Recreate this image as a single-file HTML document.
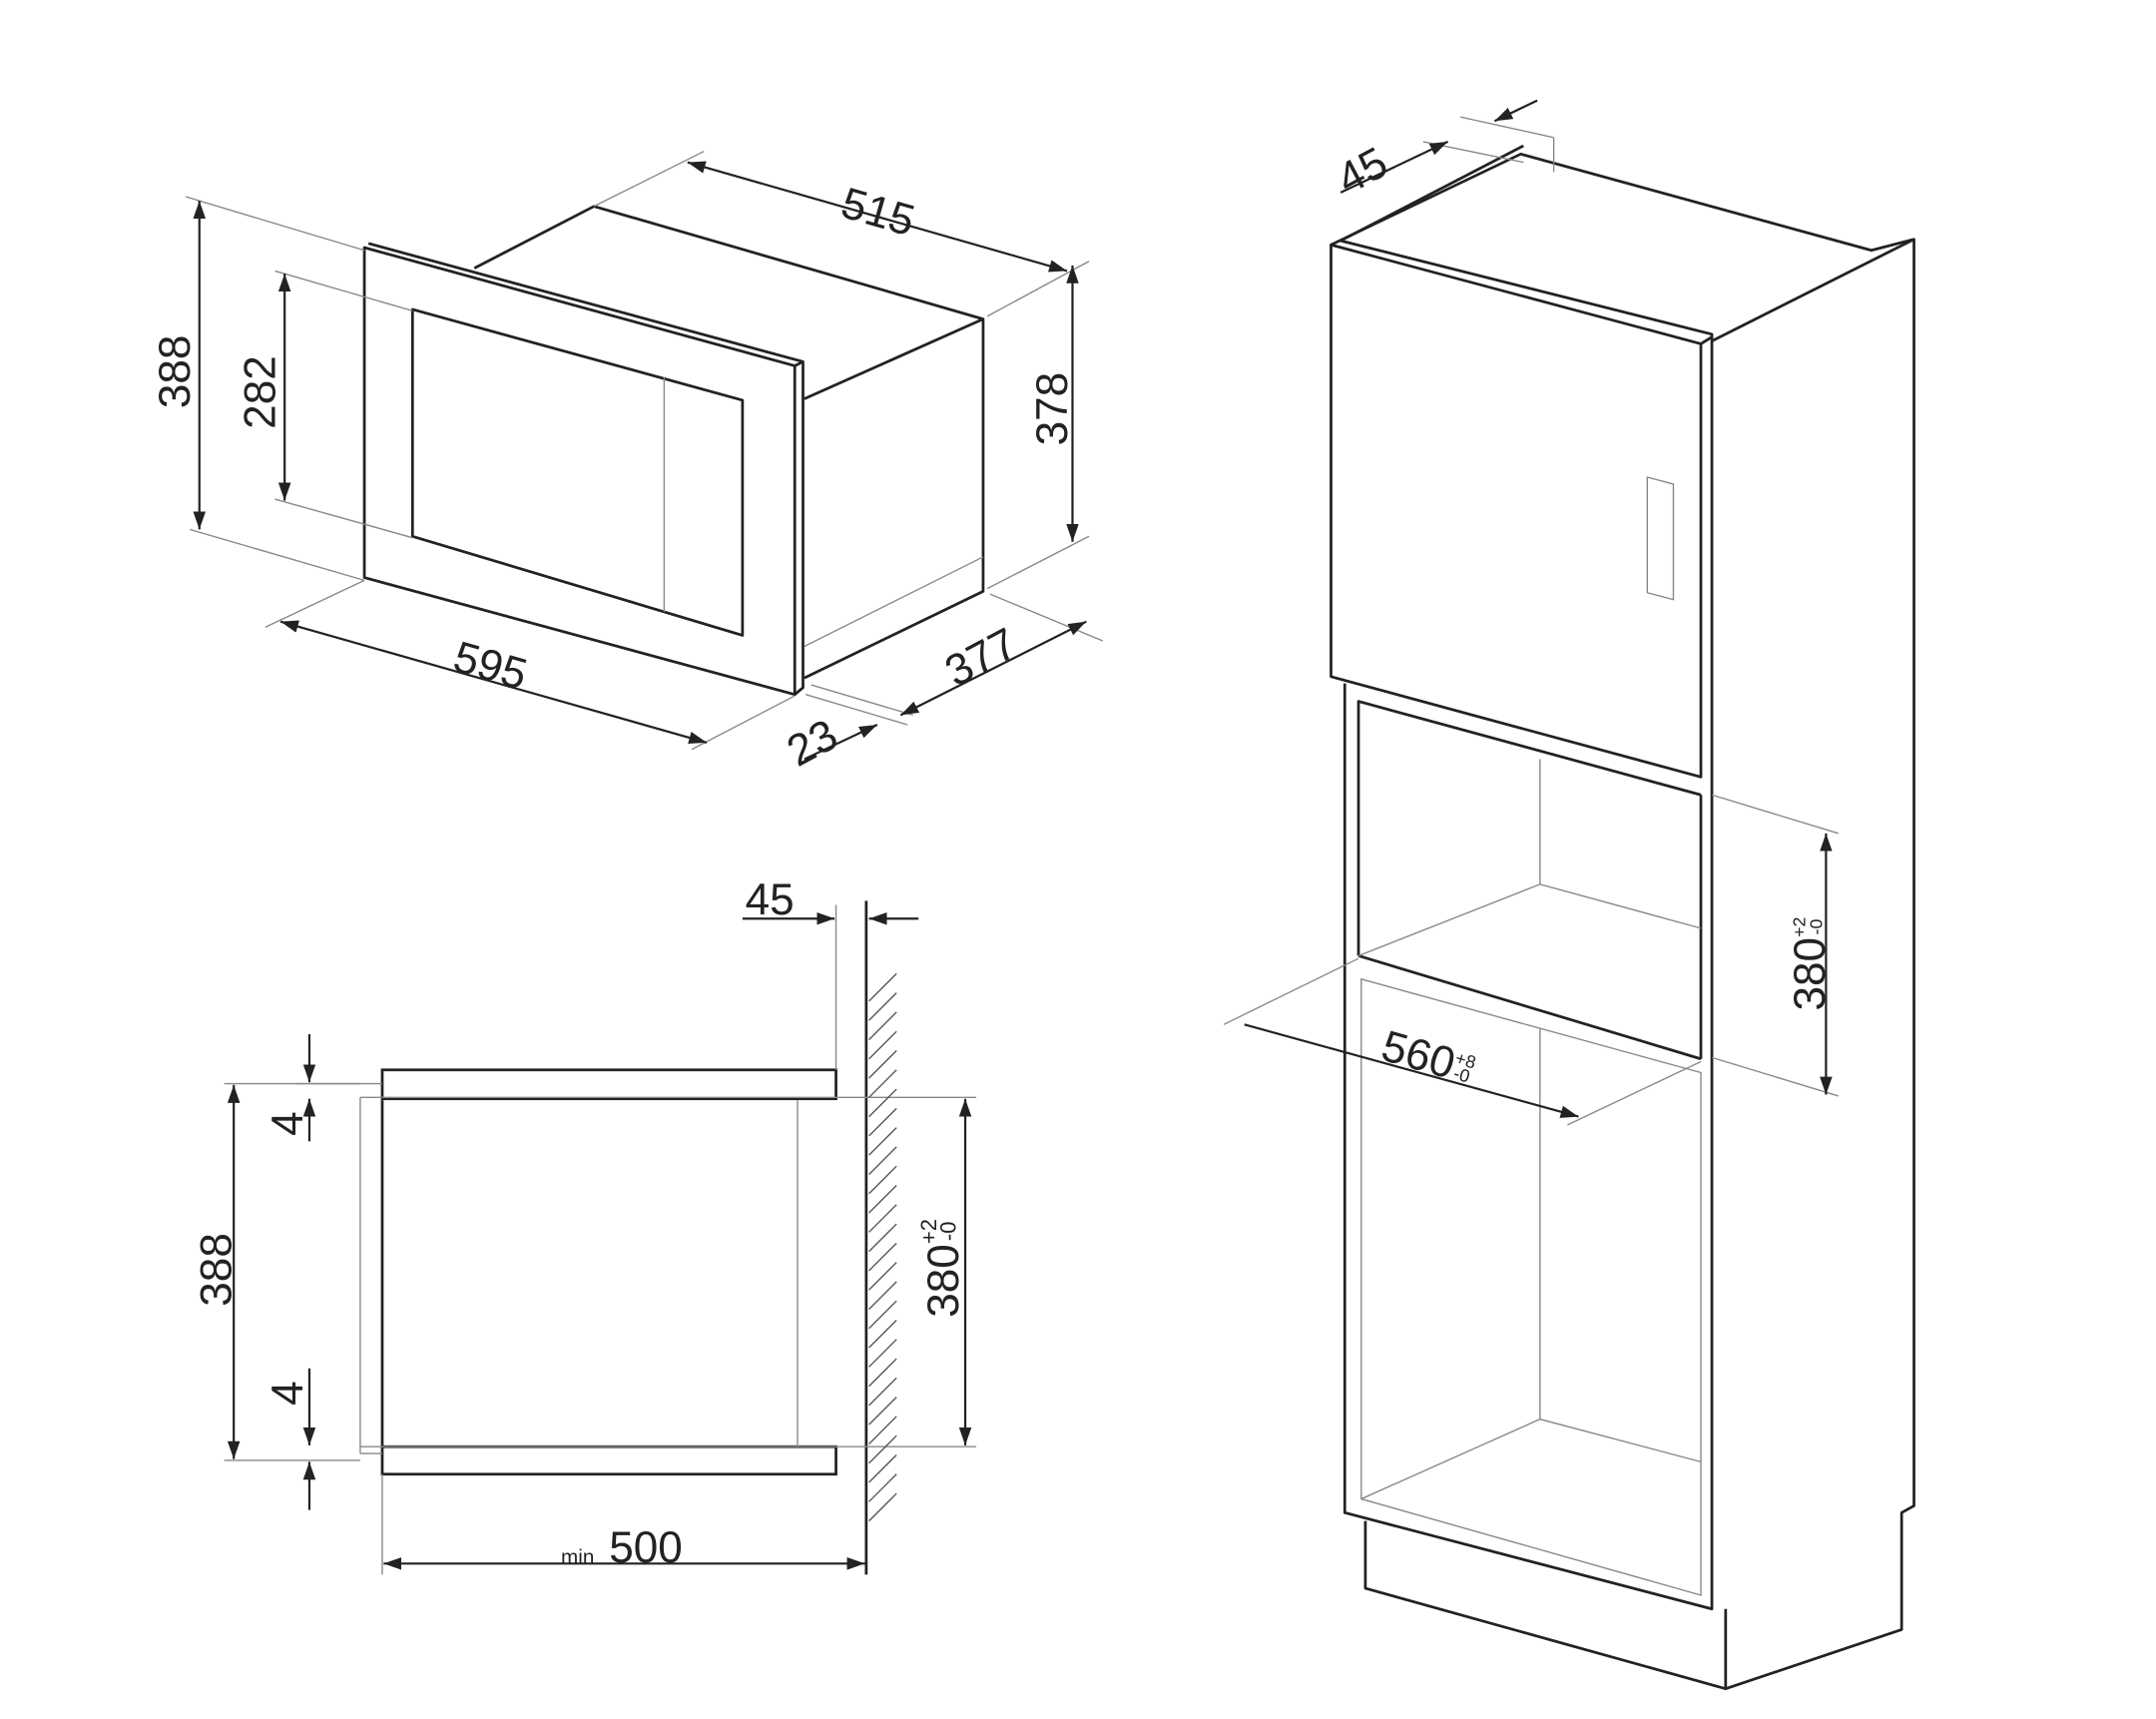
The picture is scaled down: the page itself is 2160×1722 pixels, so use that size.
<!DOCTYPE html>
<html><head><meta charset="utf-8"><style>
html,body{margin:0;padding:0;background:#fff;}
svg{display:block}
text{font-family:"Liberation Sans",sans-serif;fill:#222;}
</style></head><body>
<svg width="2160" height="1722" viewBox="0 0 1568 1250" xmlns="http://www.w3.org/2000/svg">
<defs>
<marker id="a" viewBox="0 0 10 10" refX="10" refY="5" markerWidth="13" markerHeight="13" markerUnits="userSpaceOnUse" orient="auto-start-reverse">
<path d="M0,1.5 L10,5 L0,8.5 z" fill="#222"/></marker>
</defs>
<rect width="1568" height="1250" fill="#fff"/>
<g fill="none" stroke="#222" stroke-width="2" stroke-linejoin="round">
<polygon points="265,180 578,266 578,505 265,420" fill="#fff"/>
<polyline points="268,177 584,263 584,500 578,505"/>
<polyline points="578,266 584,263"/>
<polygon points="300,225 540,291 540,462 300,390"/>
<polyline points="345,195 432,150 715,232 715,430 585,493"/>
<line x1="585" y1="290" x2="715" y2="232"/>
</g>
<g fill="none" stroke="#888" stroke-width="1">
<line x1="483" y1="274" x2="483" y2="445"/>
<line x1="585" y1="470" x2="715" y2="405"/>
<line x1="432" y1="150" x2="512" y2="110"/>
<line x1="718" y1="230" x2="792" y2="190"/>
<line x1="718" y1="428" x2="792" y2="390"/>
<line x1="135" y1="143" x2="265" y2="182"/>
<line x1="138" y1="385" x2="265" y2="422"/>
<line x1="200" y1="197" x2="300" y2="226"/>
<line x1="200" y1="363" x2="300" y2="391"/>
<line x1="193" y1="456" x2="265" y2="422"/>
<line x1="503" y1="545" x2="578" y2="506"/>
<line x1="720" y1="432" x2="802" y2="466"/>
<line x1="586" y1="505" x2="660" y2="527"/>
<line x1="590" y1="498" x2="664" y2="520"/>
</g>
<g stroke="#222" stroke-width="1.6" fill="none">
<line x1="500" y1="118" x2="776" y2="197" marker-start="url(#a)" marker-end="url(#a)"/>
<line x1="780" y1="193" x2="780" y2="394" marker-start="url(#a)" marker-end="url(#a)"/>
<line x1="145" y1="146" x2="145" y2="385" marker-start="url(#a)" marker-end="url(#a)"/>
<line x1="207" y1="199" x2="207" y2="364" marker-start="url(#a)" marker-end="url(#a)"/>
<line x1="204" y1="452" x2="514" y2="540" marker-start="url(#a)" marker-end="url(#a)"/>
<line x1="655" y1="520" x2="790" y2="452" marker-start="url(#a)" marker-end="url(#a)"/>
<line x1="585" y1="552" x2="638" y2="527" marker-end="url(#a)"/>
</g>
<g font-size="32">
<text transform="translate(610,157) rotate(16)">515</text>
<text transform="translate(776,324) rotate(-90)">378</text>
<text transform="translate(138,297) rotate(-90)">388</text>
<text transform="translate(200,312) rotate(-90)">282</text>
<text transform="translate(328,487) rotate(16)">595</text>
<text transform="translate(695,500) rotate(-28)">377</text>
<text transform="translate(580,558) rotate(-28)">23</text>
</g>

<g fill="none" stroke="#222" stroke-width="2">
<rect x="278" y="778" width="330" height="21" fill="#fff"/>
<rect x="278" y="1052" width="330" height="20" fill="#fff"/>
<line x1="278" y1="800" x2="278" y2="1052"/>
<line x1="630" y1="655" x2="630" y2="1145"/>
</g>
<g fill="none" stroke="#888" stroke-width="1">
<line x1="262" y1="798" x2="262" y2="1057"/>
<line x1="580" y1="800" x2="580" y2="1052"/>
<line x1="262" y1="798" x2="710" y2="798"/>
<line x1="262" y1="1052" x2="710" y2="1052"/>
<line x1="262" y1="1057" x2="278" y2="1057"/>
<line x1="608" y1="658" x2="608" y2="778"/>
<line x1="163" y1="788" x2="262" y2="788"/>
<line x1="163" y1="1062" x2="262" y2="1062"/>
<line x1="215" y1="788" x2="278" y2="788"/>
<line x1="278" y1="1072" x2="278" y2="1145"/>
<g stroke="#555">
<path d="M632,728 l20,-20 M632,742 l20,-20 M632,756 l20,-20 M632,770 l20,-20 M632,784 l20,-20 M632,798 l20,-20 M632,812 l20,-20 M632,826 l20,-20 M632,840 l20,-20 M632,854 l20,-20 M632,868 l20,-20 M632,882 l20,-20 M632,896 l20,-20 M632,910 l20,-20 M632,924 l20,-20 M632,938 l20,-20 M632,952 l20,-20 M632,966 l20,-20 M632,980 l20,-20 M632,994 l20,-20 M632,1008 l20,-20 M632,1022 l20,-20 M632,1036 l20,-20 M632,1050 l20,-20 M632,1064 l20,-20 M632,1078 l20,-20 M632,1092 l20,-20 M632,1106 l20,-20"/>
</g>
</g>
<g stroke="#222" stroke-width="1.6" fill="none">
<line x1="540" y1="668" x2="607" y2="668" marker-end="url(#a)"/>
<line x1="668" y1="668" x2="632" y2="668" marker-end="url(#a)"/>
<line x1="702" y1="799" x2="702" y2="1051" marker-start="url(#a)" marker-end="url(#a)"/>
<line x1="170" y1="789" x2="170" y2="1061" marker-start="url(#a)" marker-end="url(#a)"/>
<line x1="225" y1="752" x2="225" y2="787" marker-end="url(#a)"/>
<line x1="225" y1="830" x2="225" y2="799" marker-end="url(#a)"/>
<line x1="225" y1="995" x2="225" y2="1051" marker-end="url(#a)"/>
<line x1="225" y1="1098" x2="225" y2="1063" marker-end="url(#a)"/>
<line x1="279" y1="1137" x2="629" y2="1137" marker-start="url(#a)" marker-end="url(#a)"/>
</g>
<g font-size="32">
<text x="542" y="665">45</text>
<text transform="translate(697,958) rotate(-90)">380<tspan font-size="16" dy="-16">+2</tspan><tspan font-size="16" dx="-16" dy="14">-0</tspan></text>
<text transform="translate(168,950) rotate(-90)">388</text>
<text transform="translate(220,826) rotate(-90)">4</text>
<text transform="translate(220,1022) rotate(-90)">4</text>
<text x="408" y="1137" font-size="15">min</text>
<text x="443" y="1136">500</text>
</g>

<g fill="none" stroke="#222" stroke-width="2" stroke-linejoin="round">
<polyline points="968,178 1106,112 1361,182 1392,174 1392,1095 1383,1100 1383,1185 1255,1228 993,1155 993,1106"/>
<polyline points="975,175 1108,106"/>
<line x1="1255" y1="1170" x2="1255" y2="1228"/>
<polyline points="1245,248 1392,174"/>
<polygon points="968,178 1237,250 1237,565 968,492" fill="#fff"/>
<polyline points="975,175 1245,243 1245,1170 978,1100 978,497"/>
<line x1="1237" y1="250" x2="1245" y2="245"/>
<polyline points="988,695 988,510 1237,578"/>
<line x1="988" y1="695" x2="1237" y2="770"/>
<line x1="1237" y1="578" x2="1237" y2="770"/>
</g>
<g fill="none" stroke="#888" stroke-width="1">
<line x1="1130" y1="100" x2="1130" y2="125"/>
<polygon points="1198,347 1217,352 1217,436 1198,431"/>
<line x1="1120" y1="552" x2="1120" y2="643"/>
<polyline points="988,695 1120,643 1237,675"/>
<polygon points="990,712 1237,780 1237,1160 990,1090"/>
<line x1="1120" y1="748" x2="1120" y2="1032"/>
<polyline points="990,1090 1120,1032 1237,1063"/>
<line x1="1062" y1="85" x2="1130" y2="100"/>
<line x1="1035" y1="103" x2="1108" y2="118"/>
<line x1="1245" y1="578" x2="1337" y2="606"/>
<line x1="1245" y1="769" x2="1337" y2="797"/>
<line x1="890" y1="745" x2="988" y2="697"/>
<line x1="1140" y1="818" x2="1237" y2="772"/>
</g>
<g stroke="#222" stroke-width="1.6" fill="none">
<line x1="975" y1="140" x2="1053" y2="103" marker-end="url(#a)"/>
<line x1="1118" y1="73" x2="1087" y2="88" marker-end="url(#a)"/>
<line x1="1328" y1="606" x2="1328" y2="796" marker-start="url(#a)" marker-end="url(#a)"/>
<line x1="905" y1="745" x2="1148" y2="812" marker-end="url(#a)"/>
</g>
<g font-size="32">
<text transform="translate(980,142) rotate(-28)">45</text>
<text transform="translate(1327,735) rotate(-90)">380<tspan font-size="13" dy="-14">+2</tspan><tspan font-size="13" dx="-13" dy="12">-0</tspan></text>
<text transform="translate(1003,770) rotate(16)">560<tspan font-size="13" dy="-12">+8</tspan><tspan font-size="13" dx="-13" dy="11">-0</tspan></text>
</g>
</svg>
</body></html>
